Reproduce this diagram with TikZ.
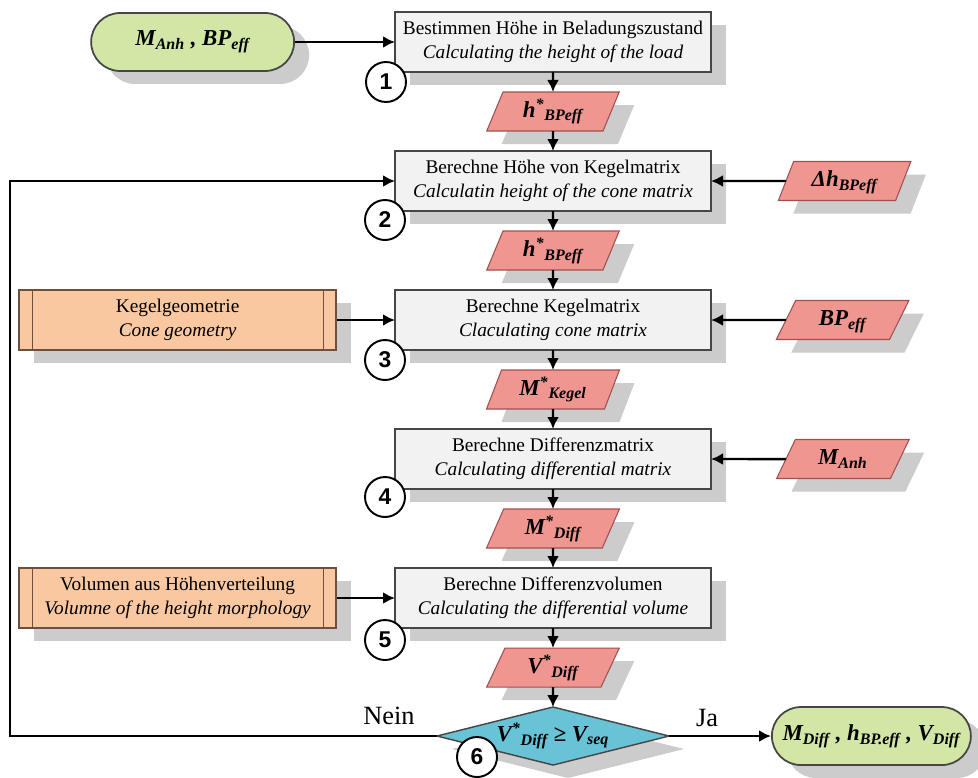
\documentclass[tikz,border=0pt]{standalone}
\usepackage{fontspec}
\setmainfont{Liberation Serif}
\newfontfamily\numfont{Liberation Sans}
\usetikzlibrary{arrows.meta,positioning,calc,shapes.geometric,shadows}
\definecolor{procF}{HTML}{F2F2F2}
\definecolor{dataF}{RGB}{240,150,145}
\definecolor{dataD}{RGB}{160,80,80}
\definecolor{termF}{RGB}{210,230,165}
\definecolor{preF}{RGB}{250,200,160}
\definecolor{preD}{RGB}{110,78,60}
\definecolor{decF}{RGB}{105,195,215}
\definecolor{lineC}{RGB}{70,70,70}
\tikzset{
  shad/.style={drop shadow={shadow xshift=0.3cm, shadow yshift=-0.26cm, fill=black!20, opacity=1}},
  procbox/.style={rectangle, draw=lineC, line width=1pt, fill=procF, shad, outer sep=0pt,
                  align=center, font=\fontsize{11}{13.5}\selectfont, minimum width=6.32cm, minimum height=1.2cm},
  databox/.style={trapezium, trapezium left angle=65, trapezium right angle=115, trapezium stretches=true,
                  draw=dataD, line width=0.6pt, fill=dataF, shad, minimum width=2.66cm, minimum height=0.78cm,
                  inner sep=0pt, outer sep=0pt, text height=0.32cm, text depth=0.1cm,
                  font=\fontsize{13}{15}\selectfont\bfseries\itshape},
  termbox/.style={rectangle, rounded corners=0.58cm, draw=lineC, line width=1pt, fill=termF, shad,
                  minimum height=1.16cm, font=\fontsize{13}{15}\selectfont\bfseries\itshape},
  prebox/.style={rectangle, draw=preD, line width=1pt, fill=preF, shad, align=center,
                 font=\fontsize{11}{13.5}\selectfont, minimum width=6.34cm, minimum height=1.2cm,
                 path picture={\draw[preD, line width=0.6pt]
                   ([xshift=0.26cm]path picture bounding box.north west) -- ([xshift=0.26cm]path picture bounding box.south west)
                   ([xshift=-0.26cm]path picture bounding box.north east) -- ([xshift=-0.26cm]path picture bounding box.south east);}},
  decbox/.style={diamond, aspect=4, draw=lineC, line width=0.8pt, fill=decF, shad, inner sep=0pt, outer sep=0pt,
                 minimum width=4.64cm, minimum height=1.16cm, font=\fontsize{13}{15}\selectfont\bfseries\itshape},
  stepnum/.style={circle, draw=black, line width=1.1pt, fill=white, minimum size=0.8cm, inner sep=0pt,
                  font=\numfont\bfseries\fontsize{13}{13}\selectfont},
  arr/.style={-{Latex[length=2.4mm,width=2.4mm]}, line width=1.4pt, draw=black},
  lab/.style={font=\fontsize{15}{17}\selectfont},
}
\begin{document}
\begin{tikzpicture}[node distance=4mm]
    \useasboundingbox (0,0) rectangle (19.56,-15.56);
    % main column
    \node[procbox] (s1) at (11.06,-0.84)
      {Bestimmen Höhe in Beladungszustand\\\textit{Calculating the height of the load}};
    \node[databox, below=of s1] (h1) {h\textsuperscript{*}\textsubscript{BPeff}};
    \node[procbox, below=of h1] (s2)
      {Berechne Höhe von Kegelmatrix\\\textit{Calculatin height of the cone matrix}};
    \node[databox, below=of s2] (h2) {h\textsuperscript{*}\textsubscript{BPeff}};
    \node[procbox, below=of h2] (s3)
      {Berechne Kegelmatrix\\\textit{Claculating cone matrix}};
    \node[databox, below=of s3] (mk) {M\textsuperscript{*}\textsubscript{Kegel}};
    \node[procbox, below=of mk] (s4)
      {Berechne Differenzmatrix\\\textit{Calculating differential matrix}};
    \node[databox, below=of s4] (md) {M\textsuperscript{*}\textsubscript{Diff}};
    \node[procbox, below=of md] (s5)
      {Berechne Differenzvolumen\\\textit{Calculating the differential volume}};
    \node[databox, below=of s5] (vd) {V\textsuperscript{*}\textsubscript{Diff}};
    \node[decbox, below=of vd] (d) {V\textsuperscript{*}\textsubscript{Diff} ≥ V\textsubscript{seq}};
    % inputs and outputs
    \node[termbox, minimum width=4.06cm, left=2cm of s1] (start) {M\textsubscript{Anh} , BP\textsubscript{eff}};
    \node[termbox, minimum width=3.98cm, right=2.04cm of d] (end)
      {M\textsubscript{Diff} , h\textsubscript{BP.eff} , V\textsubscript{Diff}};
    \node[databox, right=1.5cm of s2] (dh) {Δh\textsubscript{BPeff}};
    \node[databox, right=1.5cm of s3] (bp) {BP\textsubscript{eff}};
    \node[databox, right=1.5cm of s4] (ma) {M\textsubscript{Anh}};
    \node[prebox, left=1.16cm of s3] (kg) {Kegelgeometrie\\\textit{Cone geometry}};
    \node[prebox, left=1.16cm of s5] (vh) {Volumen aus Höhenverteilung\\\textit{Volumne of the height morphology}};
    % step numbers
    \node[stepnum] (n1) at ([xshift=-0.18cm,yshift=-0.2cm]s1.south west) {1};
    \node[stepnum] (n2) at ([xshift=-0.2cm,yshift=-0.18cm]s2.south west) {2};
    \node[stepnum] (n3) at ([xshift=-0.2cm,yshift=-0.2cm]s3.south west) {3};
    \node[stepnum] (n4) at ([xshift=-0.2cm,yshift=-0.16cm]s4.south west) {4};
    \node[stepnum] (n5) at ([xshift=-0.2cm,yshift=-0.24cm]s5.south west) {5};
    \node[stepnum] (n6) at ([xshift=-1.52cm,yshift=-0.42cm]d.center) {6};
    \node[lab] (nein) at ([xshift=-0.96cm,yshift=0.4cm]d.west) {Nein};
    \node[lab] (ja) at ([xshift=0.76cm,yshift=0.36cm]d.east) {Ja};
    \coordinate (lc) at (0.2,0);
    % connectors
    \draw[arr] (start) -- (s1);
    \draw[arr] (s1) -- (h1); \draw[arr] (h1) -- (s2);
    \draw[arr] (s2) -- (h2); \draw[arr] (h2) -- (s3);
    \draw[arr] (s3) -- (mk); \draw[arr] (mk) -- (s4);
    \draw[arr] (s4) -- (md); \draw[arr] (md) -- (s5);
    \draw[arr] (s5) -- (vd); \draw[arr] (vd) -- (d);
    \draw[arr] (dh) -- (s2); \draw[arr] (bp) -- (s3); \draw[arr] (ma) -- (s4);
    \draw[arr] (kg) -- (s3); \draw[arr] (vh) -- (s5);
    \draw[arr] (d.east) -- (end);
    \draw[arr] (d.west) -- (d.west -| lc) |- (s2.west);
  \end{tikzpicture}
\end{document}
